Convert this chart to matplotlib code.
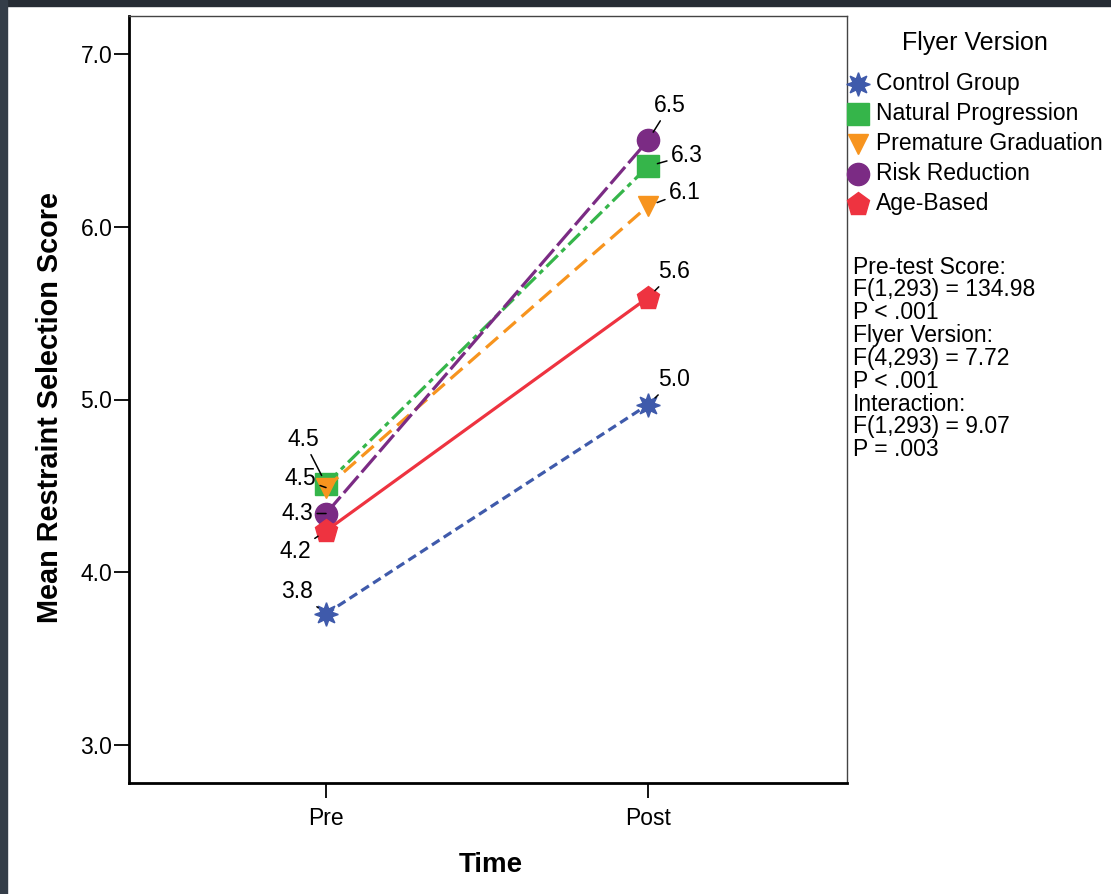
import matplotlib

matplotlib.use("Agg")
import matplotlib.pyplot as plt
from matplotlib.lines import Line2D
from matplotlib.patches import Rectangle

plt.rcParams["font.family"] = ["Liberation Sans", "DejaVu Sans"]
plt.rcParams["lines.scale_dashes"] = False

# data
times = ["Pre", "Post"]
groups = ["Control Group", "Natural Progression", "Premature Graduation", "Risk Reduction", "Age-Based"]
pre_scores = [3.76, 4.51, 4.49, 4.34, 4.24]
post_scores = [4.97, 6.35, 6.12, 6.50, 5.59]
pre_labels = ["3.8", "4.5", "4.5", "4.3", "4.2"]
post_labels = ["5.0", "6.3", "6.1", "6.5", "5.6"]
stats_lines = [
    "Pre-test Score:", "F(1,293) = 134.98", "P < .001",
    "Flyer Version:", "F(4,293) = 7.72", "P < .001",
    "Interaction:", "F(1,293) = 9.07", "P = .003",
]

colors = ["#3f5aab", "#35b54a", "#f7941e", "#7b2b84", "#ee3340"]
markers = [(8, 1, 0), "s", "v", "o", "p"]
msizes = [17, 16, 15, 16, 17]
dashes = [(6.5, 3.6), (11.5, 3.6, 3.6, 3.6), (11.5, 5.5), (16, 3.6), None]
# label offsets in pixels (pre, post)
pre_off = [(-29, 22), (-23, 45), (-26, 9), (-29, 0), (-31, -21)]
post_off = [(26, 25), (39, 11), (37, 14), (22, 35), (26, 26)]

FS = 16.5
fig = plt.figure(figsize=(11.11, 8.94), dpi=100)
W, H = 1111, 894
ax = fig.add_axes([129 / W, 1 - 783 / H, 718 / W, 767 / H])

x = [0, 1]
for i, g in enumerate(groups):
    kw = dict(color=colors[i], lw=2.3, marker=markers[i], ms=msizes[i],
              markerfacecolor=colors[i], markeredgecolor=colors[i], label=g)
    if dashes[i] is None:
        ax.plot(x, [pre_scores[i], post_scores[i]], ls="-", **kw)
    else:
        ax.plot(x, [pre_scores[i], post_scores[i]], ls="--", dashes=dashes[i], **kw)

for i in range(len(groups)):
    for xi, val, lab, off in [(0, pre_scores[i], pre_labels[i], pre_off[i]),
                              (1, post_scores[i], post_labels[i], post_off[i])]:
        ax.annotate(lab, xy=(xi, val), xytext=off, textcoords="offset pixels",
                    ha="center", va="center", fontsize=FS, zorder=10,
                    arrowprops=dict(arrowstyle="-", color="black", lw=1.1,
                                    shrinkA=1, shrinkB=7))

ax.set_xlim(-0.612, 1.618)
ax.set_ylim(2.78, 7.22)
ax.set_xticks(x)
ax.set_xticklabels(times)
ax.set_yticks([3, 4, 5, 6, 7])
ax.set_yticklabels(["3.0", "4.0", "5.0", "6.0", "7.0"])
ax.tick_params(axis="both", labelsize=FS, length=11, width=1.3, direction="out")
ax.tick_params(axis="y", pad=1)
ax.tick_params(axis="x", pad=6)
for s in ["left", "bottom"]:
    ax.spines[s].set_linewidth(2)
    ax.spines[s].set_color("black")
for s in ["top", "right"]:
    ax.spines[s].set_linewidth(1)
    ax.spines[s].set_color("#444444")

ax.set_xlabel("Time", fontsize=20, fontweight="bold")
ax.xaxis.set_label_coords(0.504, -0.09)
ax.set_ylabel("Mean Restraint Selection Score", fontsize=20.8, fontweight="bold")
ax.yaxis.set_label_coords(-0.09, 0.49)

# legend, placed by hand to match the original layout
fig.text(975 / W, 1 - 43 / H, "Flyer Version", fontsize=18, ha="center", va="center")
for i, g in enumerate(groups):
    yy = 1 - (84 + 30 * i) / H
    fig.add_artist(Line2D([858 / W], [yy], ls="none", marker=markers[i], ms=msizes[i],
                          color=colors[i], transform=fig.transFigure))
    fig.text(876 / W, yy - 6 / H, g, fontsize=FS, ha="left", va="baseline")

for k, line in enumerate(stats_lines):
    fig.text(853 / W, 1 - (273.5 + 22.85 * k) / H, line, fontsize=FS, ha="left", va="baseline")

# dark window frame
fig.add_artist(Rectangle((0, 1 - 6 / H), 1, 6 / H, transform=fig.transFigure,
                         color="#262c34", zorder=20))
fig.add_artist(Rectangle((0, 0), 7 / W, 1, transform=fig.transFigure,
                         color="#343d48", zorder=20))

fig.savefig("out.png", dpi=100)
